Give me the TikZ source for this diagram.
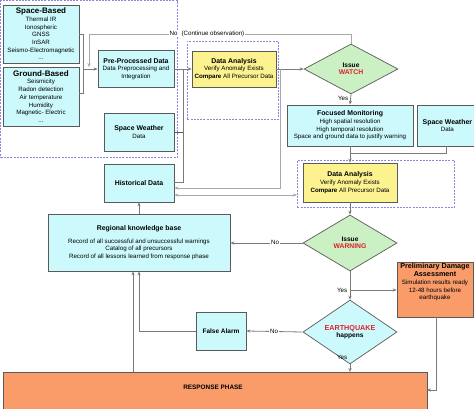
\documentclass[tikz,border=0pt]{standalone}
\usepackage{fontspec}
\setmainfont{Liberation Sans}
\usetikzlibrary{arrows.meta,shapes.geometric}
\definecolor{cy}{HTML}{CCFAFC}
\definecolor{yl}{HTML}{FCF290}
\definecolor{gr}{HTML}{CAF0C4}
\definecolor{org}{HTML}{F99C6A}
\definecolor{purp}{HTML}{8A86E6}
\definecolor{boxgrey}{HTML}{5A5A5A}
\definecolor{linegrey}{HTML}{7A7A7A}
\definecolor{lightline}{HTML}{A8A8A8}
\definecolor{wred}{HTML}{E0202A}
\newcommand\bdyfont{\fontsize{6.2}{7.7}\selectfont}
\newcommand\ttlfont{\fontsize{6.9}{7.7}\selectfont\bfseries}
\begin{document}
\begin{tikzpicture}[x=1pt,y=-1pt,
  conn/.style={draw=linegrey, line width=0.8pt},
  lconn/.style={draw=lightline, line width=0.9pt},
  arr/.style={conn, -{Stealth[length=4pt,width=3.2pt]}},
  cbox/.style={draw=boxgrey, line width=0.7pt, fill=cy, align=center, inner sep=1pt, font=\bdyfont},
  ybox/.style={cbox, fill=yl},
  obox/.style={cbox, fill=org},
  dbox/.style={draw=purp, line width=0.6pt, dash pattern=on 2pt off 1.2pt, inner sep=0pt},
  dia/.style={diamond, draw=boxgrey, line width=0.7pt, fill=gr, align=center, inner sep=0pt, font=\bdyfont},
  lbl/.style={font=\bdyfont, fill=white, inner sep=0.6pt},
  plainlbl/.style={font=\bdyfont, inner sep=0.6pt},
]
\clip (0,0) rectangle (474,409);
\fill[white] (0,0) rectangle (474,409);

% outer dashed group
\node[dbox, minimum width=176.5, minimum height=156.5, anchor=north west] (grp) at (0.5,0.5) {};

% sources
\node[cbox, minimum width=76, minimum height=58] (space) at (41,34)
  {{\fontsize{8}{9}\selectfont\bfseries Space-Based}\\Thermal IR\\Ionospheric\\GNSS\\InSAR\\Seismo-Electromagnetic\\...};
\node[cbox, minimum width=76, minimum height=59] (ground) at (41,96.5)
  {{\fontsize{8}{9}\selectfont\bfseries Ground-Based}\\Seismicity\\Radon detection\\Air temperature\\Humidity\\Magnetic- Electric\\...};

\node[cbox, minimum width=76, minimum height=37] (prep) at (136,69)
  {{\ttlfont Pre-Processed Data}\\Data Preprocessing and\\Integration};
\node[cbox, minimum width=70, minimum height=38] (sw1) at (139,132)
  {{\ttlfont Space Weather}\\Data};
\node[cbox, minimum width=70, minimum height=38] (hist) at (139,183)
  {{\ttlfont Historical Data}};

% data analysis 1
\node[dbox, minimum width=91, minimum height=78, anchor=north west] (dg1) at (187,41) {};
\node[ybox, minimum width=84, minimum height=36] (da1) at (234,69)
  {{\ttlfont Data Analysis}\\Verify Anomaly Exists\\\textbf{Compare} All Precursor Data};

% watch
\node[dia, minimum width=94, minimum height=50] (watch) at (351,69)
  {{\fontsize{6.6}{7.6}\selectfont\bfseries Issue}\\[-1pt]{\fontsize{6.8}{7.6}\selectfont\bfseries\color{wred}WATCH}};

\node[cbox, minimum width=126, minimum height=41] (fm) at (350,125.5)
  {{\ttlfont Focused Monitoring}\\High spatial resolution\\High temporal resolution\\Space and ground data to justify warning};
\node[cbox, minimum width=60, minimum height=41, anchor=west] (sw2) at (417,125.5)
  {{\ttlfont Space Weather}\\Data};

% data analysis 2
\node[dbox, minimum width=157, minimum height=47, anchor=north west] (dg2) at (297,160) {};
\node[ybox, minimum width=94, minimum height=39] (da2) at (350,182.5)
  {{\ttlfont Data Analysis}\\Verify Anomaly Exists\\\textbf{Compare} All Precursor Data};

\node[dia, minimum width=94, minimum height=56] (warn) at (350,243)
  {{\fontsize{6.6}{7.6}\selectfont\bfseries Issue}\\[-1pt]{\fontsize{6.8}{7.6}\selectfont\bfseries\color{wred}WARNING}};

\node[cbox, minimum width=182, minimum height=57] (rkb) at (139,242.5)
  {{\ttlfont Regional knowledge base}\\[5pt]Record of all successful and unsuccessful warnings\\Catalog of all precursors\\Record of all lessons learned from response phase};

\node[dia, fill=cy, minimum width=94, minimum height=38] (eq) at (350,332)
  {{\fontsize{7.2}{7.6}\selectfont\bfseries\color{wred}EARTHQUAKE}\\[-1pt]{\fontsize{6.6}{7}\selectfont\bfseries happens}};

\node[cbox, minimum width=50, minimum height=38] (fa) at (221,331) {{\fontsize{6.5}{7.6}\selectfont\bfseries False Alarm}};

\node[obox, minimum width=76, minimum height=55, anchor=north] (pda) at (435,262) {};
\node[font=\bdyfont, align=center, anchor=north, inner sep=0pt] (pdatxt) at (435,263.5)
  {{\fontsize{7.2}{7.4}\selectfont\bfseries Preliminary Damage}\\{\fontsize{7.2}{7.4}\selectfont\bfseries Assessment}\\Simulation results ready\\12-48 hours before\\earthquake};

\node[obox, minimum width=424, minimum height=45, anchor=north west] (resp) at (3,372) {};
\node[font={\fontsize{6.4}{7}\selectfont\bfseries}, anchor=center, inner sep=0pt] (resptxt) at (213,387) {RESPONSE PHASE};

% ---- connectors ----
\coordinate (b1) at (83,34);
\coordinate (b2) at (83,93);
\draw[conn] (space.east |- b1) -- (b1) -- (b2) -- (ground.east |- b2);
\draw[arr] (83,69) -- (prep.west);

% No (continue observation) loop
\coordinate (n1) at (351,34);
\coordinate (n2) at (89,34);
\coordinate (n3) at (89,67);
\draw[lconn, -{Stealth[length=4pt,width=3.2pt]}] (watch.north) -- (n1) -- (n2) -- (n3);
\node[lbl] (nolbl) at (207,34) {No\hspace{4pt}(Continue observation)};

\draw[arr] (prep.east) -- (da1.west);
% historical + space weather feed
\coordinate (h1) at (183,182);
\coordinate (h2) at (183,69);
\draw[conn] (hist.east |- h1) -- (h1) -- (h2);
\draw[conn, line width=0.6pt, draw=boxgrey] (sw1.east) -- (183,132);

\draw[arr] (da1.east) -- (watch.west);
\coordinate (s1) at (280,69);
\coordinate (s2) at (280,188);
\draw[lconn, -{Stealth[length=4pt,width=3.2pt]}] (s1) -- (s2) -- (hist.east |- s2);
\coordinate (d1) at (174,195);
\draw[lconn, {Stealth[length=4pt,width=3.2pt]}-{Stealth[length=4pt,width=3.2pt]}] (hist.east |- d1) -- (dg2.west |- d1);

\draw[arr] (watch.south) -- (fm.north);
\node[plainlbl, anchor=east] (yes1) at (349,98) {Yes};

\draw[arr] (fm.south) -- (da2.north);
\coordinate (w1) at (446,153);
\draw[conn] (sw2.south -| w1) -- (w1) -- (350,153);

\draw[arr] (da2.south) -- (warn.north);

\draw[arr] (warn.west) -- (rkb.east |- warn.west);
\node[lbl] (no1) at (275,242.5) {No};

\draw[arr] (rkb.north) -- (hist.south);

\draw[arr] (warn.south) -- (eq.north);
\node[plainlbl, anchor=east] (yes2) at (348,290) {Yes};
\coordinate (p1) at (350,290);
\draw[arr] (p1) -- (pda.west |- p1);

\draw[arr] (eq.west) -- (fa.east);
\node[lbl] (no2) at (274,331.5) {No};

\draw[arr] (eq.south) -- (resp.north -| eq.south);
\node[plainlbl, anchor=east] (yes3) at (348,357) {Yes};

\coordinate (f1) at (139,331);
\draw[arr] (fa.west) -- (f1) -- (rkb.south);

\coordinate (r1) at (133,372);
\draw[arr] (r1) -- (133,271.3);

\coordinate (q1) at (436,317);
\coordinate (q2) at (436,390);
\draw[arr] (q1) -- (q2) -- (427,390);
\end{tikzpicture}
\end{document}
